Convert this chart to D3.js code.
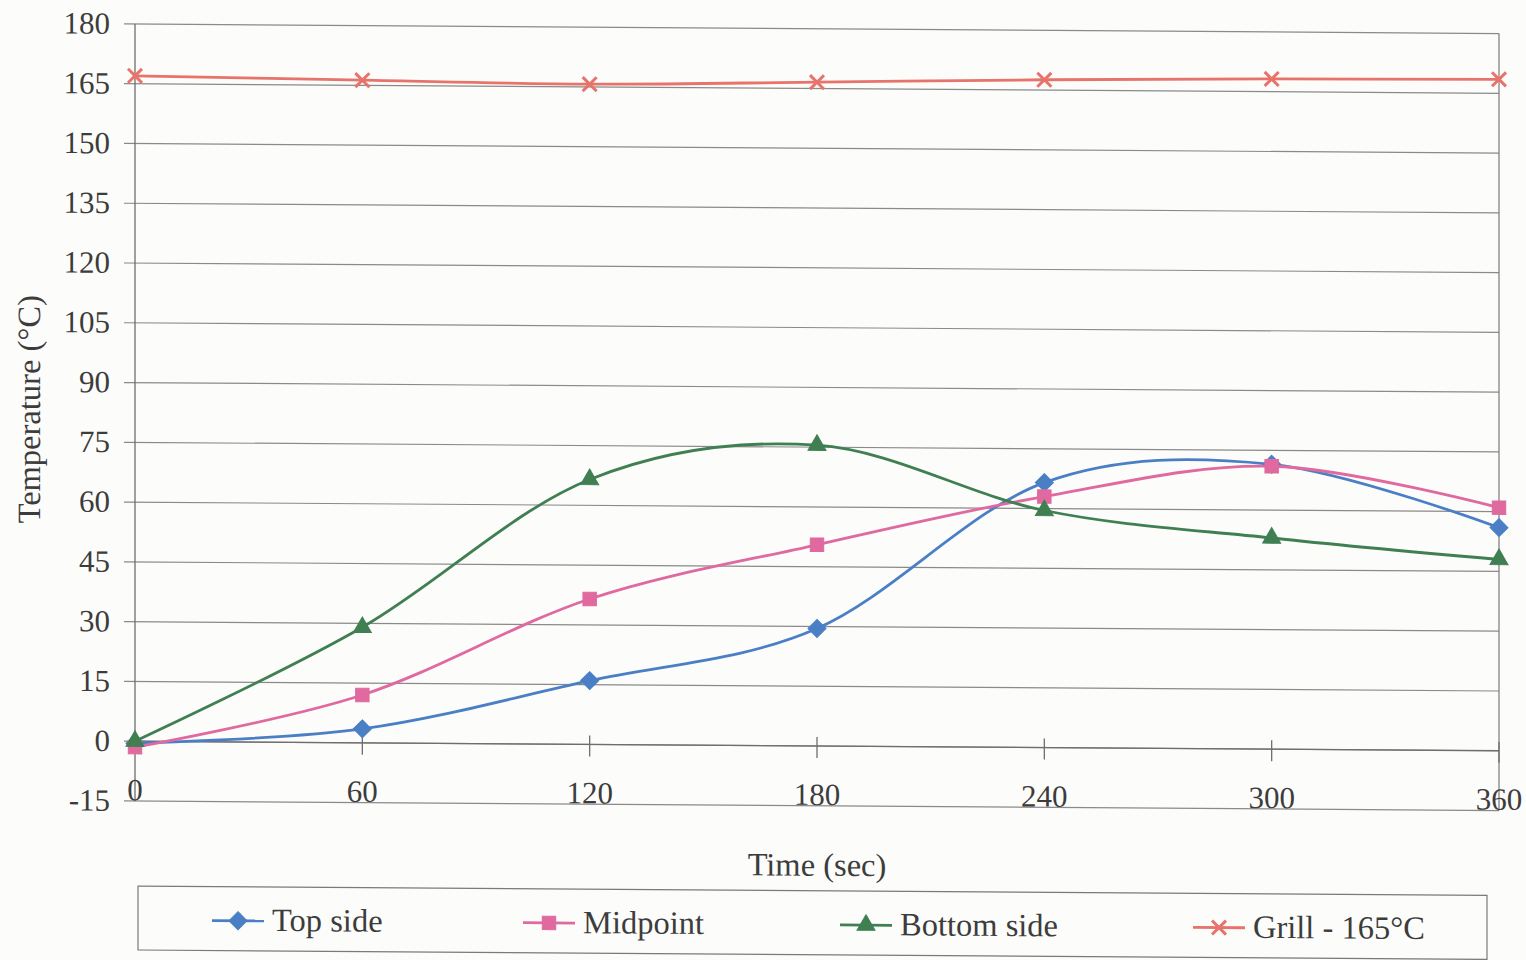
<!DOCTYPE html>
<html>
<head>
<meta charset="utf-8">
<script src="https://cdn.jsdelivr.net/npm/d3@7"></script>
<style>
  html, body { margin: 0; padding: 0; background: #fcfcfb; }
  svg text { font-family: "Liberation Serif", "DejaVu Serif", serif; fill: #3c3c3c; }
</style>
</head>
<body>
<div id="chart"></div>
<script>
// Data
var times = [0, 60, 120, 180, 240, 300, 360];
var topSide = [-0.5, 3.5, 16, 29.5, 66.5, 71.5, 56];
var midpoint = [-1.5, 12, 36.5, 50.5, 63, 71, 61];
var bottomSide = [0, 29, 66.5, 75.5, 59.5, 53, 48];
var grill = [167, 166.3, 165.7, 166.6, 167.6, 168.2, 168.5];
var seriesNames = ["Top side", "Midpoint", "Bottom side", "Grill - 165°C"];
var yTicks = [-15, 0, 15, 30, 45, 60, 75, 90, 105, 120, 135, 150, 165, 180];
var xTicks = [0, 60, 120, 180, 240, 300, 360];

var series = [
  { name: seriesNames[0], values: topSide, color: "#4a7fc6", marker: "diamond" },
  { name: seriesNames[1], values: midpoint, color: "#e0699f", marker: "square" },
  { name: seriesNames[2], values: bottomSide, color: "#3f7f52", marker: "triangle" },
  { name: seriesNames[3], values: grill, color: "#e8736a", marker: "x" }
];

var width = 1526, height = 960;

var svg = d3.select("#chart")
  .append("svg")
  .attr("width", width)
  .attr("height", height);

// the scan is a little tilted: shear down to the right, anchored at the y axis
var g = svg.append("g")
  .attr("transform", "translate(0,-0.94) skewY(0.4)");

var x = d3.scaleLinear().domain([0, 360]).range([135, 1499]);
var y = d3.scaleLinear().domain([-15, 180]).range([801, 24]);

// horizontal grid lines + left ticks
g.append("g")
  .selectAll("line")
  .data(yTicks)
  .enter()
  .append("line")
  .attr("x1", x(0) - 11)
  .attr("x2", x(360))
  .attr("y1", function (d) { return y(d); })
  .attr("y2", function (d) { return y(d); })
  .attr("stroke", "#8a8a8a")
  .attr("stroke-width", 1.2);

// y axis line and right border
g.append("line")
  .attr("x1", x(0)).attr("x2", x(0))
  .attr("y1", y(180)).attr("y2", y(-15))
  .attr("stroke", "#6e6e6e").attr("stroke-width", 1.3);
g.append("line")
  .attr("x1", x(360)).attr("x2", x(360))
  .attr("y1", y(180)).attr("y2", y(-15))
  .attr("stroke", "#7a7a7a").attr("stroke-width", 1.2);

// x axis line at 0 with crossing ticks
g.append("line")
  .attr("x1", x(0)).attr("x2", x(360))
  .attr("y1", y(0)).attr("y2", y(0))
  .attr("stroke", "#6e6e6e").attr("stroke-width", 1.3);
g.append("g")
  .selectAll("line")
  .data(xTicks.slice(1))
  .enter()
  .append("line")
  .attr("x1", function (d) { return x(d); })
  .attr("x2", function (d) { return x(d); })
  .attr("y1", y(0) - 9)
  .attr("y2", y(0) + 12)
  .attr("stroke", "#6e6e6e")
  .attr("stroke-width", 1.3);

// y tick labels
g.append("g")
  .selectAll("text")
  .data(yTicks)
  .enter()
  .append("text")
  .attr("x", 110)
  .attr("y", function (d) { return y(d) + 10; })
  .attr("text-anchor", "end")
  .style("font-size", "31px")
  .text(function (d) { return d; });

// x tick labels
g.append("g")
  .selectAll("text")
  .data(xTicks)
  .enter()
  .append("text")
  .attr("x", function (d) { return x(d); })
  .attr("y", y(0) + 59)
  .attr("text-anchor", "middle")
  .style("font-size", "31px")
  .text(function (d) { return d; });

// axis titles
g.append("text")
  .attr("transform", "translate(40,410) rotate(-90)")
  .attr("text-anchor", "middle")
  .style("font-size", "32.5px")
  .text("Temperature (°C)");
g.append("text")
  .attr("x", 817)
  .attr("y", 871)
  .attr("text-anchor", "middle")
  .style("font-size", "32.5px")
  .text("Time (sec)");

// markers
function markerPath(type) {
  if (type === "diamond") return "M0,-9L9,0L0,9L-9,0Z";
  if (type === "square") return d3.symbol().type(d3.symbolSquare).size(180)();
  if (type === "triangle") return d3.symbol().type(d3.symbolTriangle).size(140)();
  return "M-7,-7L7,7M-7,7L7,-7";
}

var line = d3.line()
  .x(function (d, i) { return x(times[i]); })
  .y(function (d) { return y(d); })
  .curve(d3.curveCatmullRom.alpha(0));

series.forEach(function (s) {
  g.append("path")
    .datum(s.values)
    .attr("d", line)
    .attr("fill", "none")
    .attr("stroke", s.color)
    .attr("stroke-width", 2.8);

  g.append("g")
    .selectAll("path")
    .data(s.values)
    .enter()
    .append("path")
    .attr("transform", function (d, i) { return "translate(" + x(times[i]) + "," + y(d) + ")"; })
    .attr("d", markerPath(s.marker))
    .attr("fill", s.marker === "x" ? "none" : s.color)
    .attr("stroke", s.color)
    .attr("stroke-width", s.marker === "x" ? 3 : 1);
});

// legend
g.append("rect")
  .attr("x", 138)
  .attr("y", 886)
  .attr("width", 1349)
  .attr("height", 64)
  .attr("fill", "none")
  .attr("stroke", "#7a7a7a")
  .attr("stroke-width", 1.2);

var legendX = [212, 523, 840, 1193];
var legend = g.append("g")
  .selectAll("g")
  .data(series)
  .enter()
  .append("g")
  .attr("transform", function (d, i) { return "translate(" + legendX[i] + ",920)"; });

legend.append("line")
  .attr("x1", 0).attr("x2", 52)
  .attr("y1", 0).attr("y2", 0)
  .attr("stroke", function (d) { return d.color; })
  .attr("stroke-width", 2.8);
legend.append("path")
  .attr("transform", "translate(26,0)")
  .attr("d", function (d) { return markerPath(d.marker); })
  .attr("fill", function (d) { return d.marker === "x" ? "none" : d.color; })
  .attr("stroke", function (d) { return d.color; })
  .attr("stroke-width", function (d) { return d.marker === "x" ? 3 : 1; });
legend.append("text")
  .attr("x", 60)
  .attr("y", 10)
  .style("font-size", "32.5px")
  .text(function (d) { return d.name; });
</script>
</body>
</html>
